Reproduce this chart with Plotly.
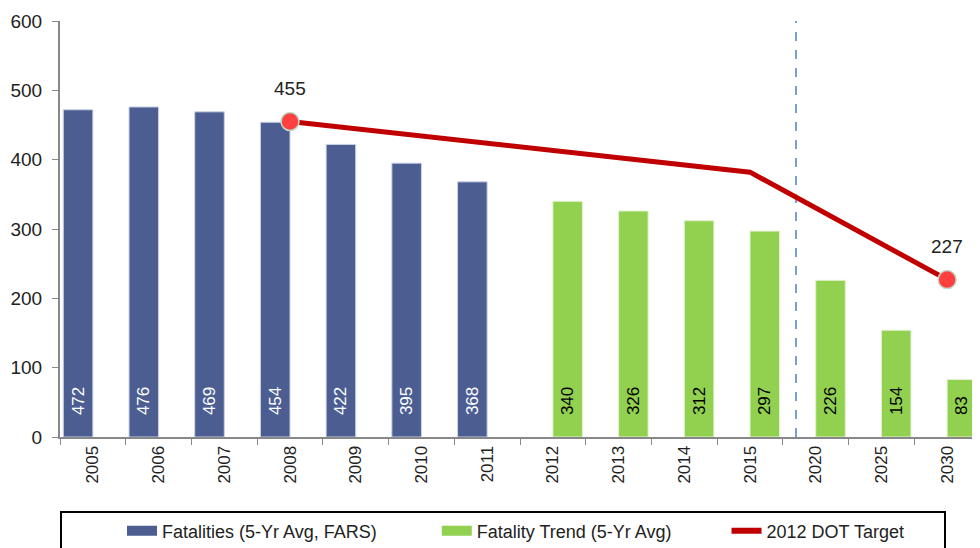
import plotly.graph_objects as go

years = ["2005", "2006", "2007", "2008", "2009", "2010", "2011",
         "2012", "2013", "2014", "2015", "2020", "2025", "2030"]
fars = [472, 476, 469, 454, 422, 395, 368, None, None, None, None, None, None, None]
trend = [None, None, None, None, None, None, None, 340, 326, 312, 297, 226, 154, 83]
target = [None, None, None, 455, None, None, None, None, None, None, 382, None, None, 227]
target_labels = ["", "", "", "455", "", "", "", "", "", "", "", "", "", "227"]
target_marker = [0, 0, 0, 18, 0, 0, 0, 0, 0, 0, 0, 0, 0, 18]
divider_pos = 10.7

FONT = "Liberation Sans, Arial, sans-serif"
NB = "\u00a0"
PAD = NB * 4
BLUE = "#4B5D91"
GREEN = "#92D050"
RED = "#C00000"


def lab(vals):
    return [PAD + str(v) if v is not None else "" for v in vals]


fig = go.Figure()
fig.add_trace(go.Bar(
    x=years, y=fars, name="Fatalities (5-Yr Avg, FARS)", showlegend=False,
    marker=dict(color=BLUE, line=dict(color="#C9D3E6", width=1)),
    text=lab(fars), textposition="inside", insidetextanchor="start",
    textangle=-90, insidetextfont=dict(color="white", size=17, family=FONT),
))
fig.add_trace(go.Bar(
    x=years, y=trend, name="Fatality Trend (5-Yr Avg)", showlegend=False,
    marker=dict(color=GREEN, line=dict(color="#E3F2D3", width=1)),
    text=lab(trend), textposition="inside", insidetextanchor="start",
    textangle=-90, insidetextfont=dict(color="black", size=17, family=FONT),
))
fig.add_trace(go.Scatter(
    x=years, y=target, name="2012 DOT Target", mode="lines+markers",
    connectgaps=True, showlegend=False,
    line=dict(color=RED, width=5),
    marker=dict(size=target_marker, color="#FF4040",
                line=dict(color="#BFDCCB", width=1.5), opacity=1),
    cliponaxis=False,
))

# legend entries (no data, legend only)
legend_items = [("Fatalities (5-Yr Avg, FARS)", BLUE, 12, 11),
                ("Fatality Trend (5-Yr Avg)", GREEN, 12, 10),
                ("2012 DOT Target", RED, 6, 7)]
for nm, col, w, gap in legend_items:
    fig.add_trace(go.Scatter(x=[None], y=[None], mode="lines", name=nm + NB * gap,
                             line=dict(color=col, width=w), showlegend=True,
                             hoverinfo="skip"))

# value labels above the target markers (category index positions)
for i, (y, t) in enumerate(zip(target, target_labels)):
    if t:
        fig.add_annotation(x=i, y=y, xref="x", yref="y", text=t, showarrow=False,
                           yshift=33, font=dict(size=19, color="#222", family=FONT))

fig.add_shape(type="line", xref="x", yref="paper", x0=divider_pos, x1=divider_pos,
              y0=0, y1=1, line=dict(color="#4F81BD", width=1.5, dash="dash"), layer="below")

fig.update_layout(
    width=972, height=540,
    margin=dict(l=52, r=0, t=13, b=111, autoexpand=False),
    paper_bgcolor="white", plot_bgcolor="white",
    barmode="group", bargap=0.1, bargroupgap=0,
    font=dict(family=FONT, size=18, color="#222"),
    showlegend=True,
    legend=dict(orientation="h", xref="paper", x=0.0, xanchor="left",
                yref="paper", y=-0.177, yanchor="top",
                bordercolor="black", borderwidth=2,
                font=dict(size=18, family=FONT), traceorder="normal",
                title=dict(text=NB * 10 + "<br>" + NB, side="left", font=dict(size=18))),
    xaxis=dict(type="category", range=[-0.5, 13.5], tickangle=-90, tickson="boundaries",
               ticks="outside", ticklen=6, tickcolor="#888",
               showline=True, linecolor="#888", linewidth=2,
               tickfont=dict(size=17, family=FONT), showgrid=False),
    yaxis=dict(range=[0, 600], dtick=100, ticks="outside", ticklen=6,
               tickcolor="#888", showline=True, linecolor="#888", linewidth=2,
               showgrid=False, zeroline=False, ticklabelstandoff=6,
               tickfont=dict(size=19, family=FONT)),
)

fig.write_html("out.html")
